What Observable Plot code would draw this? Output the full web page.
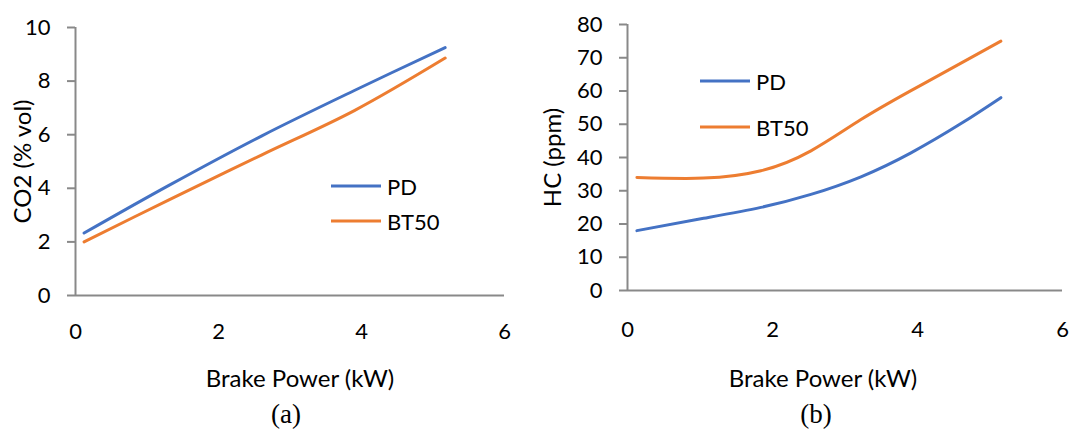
<!DOCTYPE html>
<html>
<head>
<meta charset="utf-8">
<script src="https://cdn.jsdelivr.net/npm/d3@7"></script>
<script src="https://cdn.jsdelivr.net/npm/@observablehq/plot@0.6"></script>
<style>
  html, body { margin: 0; padding: 0; background: #fff; }
  #wrap { position: relative; width: 1070px; height: 432px; overflow: hidden; font-family: Lato, sans-serif; }
  .panel { position: absolute; top: 0; }
  .xtitle { position: absolute; font-size: 24px; transform: translate(-50%, -50%); white-space: nowrap; color: #000; }
  .cap { position: absolute; font-family: "Liberation Serif", "Times New Roman", serif; font-size: 27px; transform: translate(-50%, -50%); color: #000; }
  .leg { position: absolute; display: flex; align-items: center; font-size: 22px; color: #000; white-space: nowrap; }
  .leg svg { margin-right: 5px; }
</style>
</head>
<body>
<div id="wrap"></div>
<script>
// ---- data ----
const seriesNames = ["PD", "BT50"];
const seriesColors = ["#4472C4", "#ED7D31"];
const xTicks = [0, 2, 4, 6];

// (a) CO2
const powerA = [0.12, 1.3, 2.6, 3.9, 5.17];
const co2PD = [2.33, 4.1, 5.95, 7.65, 9.25];
const co2BT50 = [2.0, 3.56, 5.24, 6.9, 8.86];
const co2Ticks = [0, 2, 4, 6, 8, 10];

// (b) HC
const powerB = [0.13, 1.05, 1.84, 2.53, 3.22, 3.91, 4.6, 5.15];
const hcPD = [18, 21.7, 25, 28.9, 34.2, 41.4, 50.2, 58];
const hcBT50 = [34, 33.8, 36.0, 42.0, 51.4, 60.1, 68.4, 75];
const hcTicks = [0, 10, 20, 30, 40, 50, 60, 70, 80];

const xTitle = "Brake Power (kW)";
const axisGray = "#898989";

function rows(xs, a, b) {
  const out = [];
  xs.forEach((x, i) => out.push({x, y: a[i], s: seriesNames[0]}));
  xs.forEach((x, i) => out.push({x, y: b[i], s: seriesNames[1]}));
  return out;
}

function panel(cfg) {
  return Plot.plot({
    width: 535,
    height: 345,
    marginLeft: cfg.ml,
    marginRight: cfg.mr,
    marginTop: cfg.mt,
    marginBottom: cfg.mb,
    style: {fontFamily: "Lato, sans-serif", fontSize: "22px", color: "#000", background: "transparent", overflow: "visible"},
    x: {domain: [0, 6]},
    y: {domain: cfg.ydomain},
    color: {domain: seriesNames, range: seriesColors},
    marks: [
      Plot.ruleX([0], {stroke: axisGray, strokeWidth: 2}),
      Plot.ruleY([0], {stroke: axisGray, strokeWidth: 2}),
      Plot.axisY({ticks: cfg.yticks, tickSize: 8, tickPadding: 17, stroke: axisGray, strokeWidth: 2, label: null, fontSize: 22, tickFormat: d => String(d)}),
      Plot.axisY({ticks: [], label: cfg.ylabel, labelAnchor: "center", labelOffset: cfg.lo, labelArrow: "none", fontSize: 24}),
      Plot.axisX({ticks: xTicks, tickSize: 0, tickPadding: cfg.tp, label: null, fontSize: 22, tickFormat: d => String(d)}),
      Plot.line(cfg.data, {x: "x", y: "y", z: "s", stroke: "s", strokeWidth: 3, curve: cfg.curve})
    ]
  });
}

const wrap = document.getElementById("wrap");

const pA = panel({ml: 75, mr: 31, mt: 27, mb: 50, ydomain: [0, 10], yticks: co2Ticks, ylabel: "CO2 (% vol)", lo: 62, tp: 28, curve: "catmull-rom", data: rows(powerA, co2PD, co2BT50)});
const dA = document.createElement("div"); dA.className = "panel"; dA.style.left = "0px"; dA.appendChild(pA); wrap.appendChild(dA);

const pB = panel({ml: 92, mr: 8, mt: 24, mb: 55, ydomain: [0, 80], yticks: hcTicks, ylabel: "HC (ppm)", lo: 84, tp: 31, curve: "natural", data: rows(powerB, hcPD, hcBT50)});
const dB = document.createElement("div"); dB.className = "panel"; dB.style.left = "535px"; dB.appendChild(pB); wrap.appendChild(dB);

// legends
function legend(left, tops) {
  seriesNames.forEach((name, i) => {
    const d = document.createElement("div");
    d.className = "leg";
    d.style.left = left + "px";
    d.style.top = (tops[i] - 15) + "px";
    d.style.height = "30px";
    d.innerHTML = `<svg width="52" height="6"><line x1="1" x2="51" y1="3" y2="3" stroke="${seriesColors[i]}" stroke-width="3.2"/></svg><span>${name}</span>`;
    wrap.appendChild(d);
  });
}
legend(330, [186, 221]);
legend(699, [81, 127]);

// x titles and captions
function addText(cls, txt, x, y) {
  const d = document.createElement("div");
  d.className = cls; d.textContent = txt;
  d.style.left = x + "px"; d.style.top = y + "px";
  wrap.appendChild(d);
}
addText("xtitle", xTitle, 300, 377);
addText("xtitle", xTitle, 823, 377);
addText("cap", "(a)", 286, 414);
addText("cap", "(b)", 816, 414);
</script>
</body>
</html>
